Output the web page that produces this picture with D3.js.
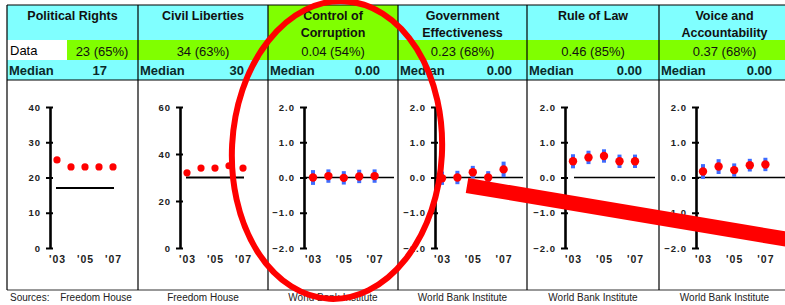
<!DOCTYPE html>
<html><head><meta charset="utf-8">
<script src="https://cdn.jsdelivr.net/npm/d3@7/dist/d3.min.js"></script>
<style>
html,body{margin:0;padding:0;background:#fff;}
svg{display:block;font-family:"Liberation Sans",Arial,sans-serif;}
</style></head>
<body>
<svg id="chart" width="785" height="305"></svg>
<script>
// ---- data ----
const titles = [["Political Rights"], ["Civil Liberties"], ["Control of", "Corruption"], ["Government", "Effectiveness"], ["Rule of Law"], ["Voice and", "Accountability"]];
const dataLabels = ["23 (65%)", "34 (63%)", "0.04 (54%)", "0.23 (68%)", "0.46 (85%)", "0.37 (68%)"];
const medianLabels = ["17", "30", "0.00", "0.00", "0.00", "0.00"];
const medians = [17, 30, 0, 0, 0, 0];
const sources = ["Freedom House", "Freedom House", "World Bank Institute", "World Bank Institute", "World Bank Institute", "World Bank Institute"];
const years = [2003, 2004, 2005, 2006, 2007];
const xTickYears = [2003, 2005, 2007];
const xTickLabels = ["'03", "'05", "'07"];
const prValues = [25, 23, 23, 23, 23];
const clValues = [32, 34, 34, 35, 34];
const ccValues = [0.00, 0.04, -0.01, 0.03, 0.04];
const ccErr = [0.21, 0.19, 0.19, 0.19, 0.19];
const geValues = [-0.02, 0.00, 0.15, 0.00, 0.23];
const geErr = [0.19, 0.19, 0.18, 0.18, 0.22];
const rlValues = [0.46, 0.57, 0.61, 0.46, 0.46];
const rlErr = [0.20, 0.19, 0.19, 0.19, 0.19];
const vaValues = [0.17, 0.31, 0.21, 0.35, 0.37];
const vaErr = [0.21, 0.21, 0.19, 0.18, 0.19];
const yTicksPR = [0, 10, 20, 30, 40];
const yTicksCL = [0, 20, 40, 60];
const yTicksWBI = [-2, -1, 0, 1, 2];

const series = [
  {values: prValues, err: null, domain: [0, 40], ticks: yTicksPR, fmt: d3.format("d")},
  {values: clValues, err: null, domain: [0, 60], ticks: yTicksCL, fmt: d3.format("d")},
  {values: ccValues, err: ccErr, domain: [-2, 2], ticks: yTicksWBI, fmt: d3.format(".1f")},
  {values: geValues, err: geErr, domain: [-2, 2], ticks: yTicksWBI, fmt: d3.format(".1f")},
  {values: rlValues, err: rlErr, domain: [-2, 2], ticks: yTicksWBI, fmt: d3.format(".1f")},
  {values: vaValues, err: vaErr, domain: [-2, 2], ticks: yTicksWBI, fmt: d3.format(".1f")}
];

// ---- layout ----
const panelLeft = [7, 138, 268, 398, 527, 659];
const panelRight = [138, 268, 398, 527, 659, 790];
const axisOffset = [43, 42, 36, 37, 38, 37];
const dotStep = [14, 14, 15.4, 15.4, 15.5, 15.6];
const dotStart = [7, 7, 9, 7, 8, 7];
const medRightPad = [31, 24, 18, 15, 17, 18];
const cyan = "#80FFFF", green = "#80FF00";
const TOP = 5, TITLE_B = 40, DATA_B = 60, MED_B = 80, BOTTOM = 290;

const svg = d3.select("#chart");

panelLeft.forEach((L, i) => {
  const R = panelRight[i];
  const g = svg.append("g");
  g.append("rect").attr("x", L).attr("y", TOP).attr("width", R - L).attr("height", TITLE_B - TOP)
    .attr("fill", i === 2 ? green : cyan);
  if (i === 0) {
    g.append("rect").attr("x", L).attr("y", TITLE_B).attr("width", 60).attr("height", DATA_B - TITLE_B).attr("fill", "#fff");
    g.append("rect").attr("x", L + 60).attr("y", TITLE_B).attr("width", R - L - 60).attr("height", DATA_B - TITLE_B).attr("fill", green);
    g.append("text").attr("x", L + 3).attr("y", 55).attr("font-size", 13).text("Data");
  } else {
    g.append("rect").attr("x", L).attr("y", TITLE_B).attr("width", R - L).attr("height", DATA_B - TITLE_B).attr("fill", green);
  }
  g.append("rect").attr("x", L).attr("y", DATA_B).attr("width", R - L).attr("height", MED_B - DATA_B).attr("fill", cyan);

  const cx = (L + R) / 2;
  titles[i].forEach((t, k) => {
    g.append("text").attr("x", cx).attr("y", 20 + k * 16.5).attr("text-anchor", "middle")
      .attr("font-size", 12.5).attr("font-weight", "bold").attr("fill", "#111").text(t);
  });
  g.append("text").attr("x", i === 0 ? 102 : cx).attr("y", 55.5).attr("text-anchor", "middle")
    .attr("font-size", 13).attr("fill", "#111").text(dataLabels[i]);
  g.append("text").attr("x", L + 2).attr("y", 75).attr("font-size", 13).attr("font-weight", "bold")
    .attr("fill", "#0a2a2a").text("Median");
  g.append("text").attr("x", R - medRightPad[i]).attr("y", 75).attr("text-anchor", "end")
    .attr("font-size", 13).attr("font-weight", "bold").attr("fill", "#0a2a2a").text(medianLabels[i]);

  g.append("text").attr("x", i === 0 ? 96 : cx).attr("y", 301).attr("text-anchor", "middle")
    .attr("font-size", 10).attr("fill", "#222").text(sources[i]);

  const s = series[i];
  const ax = L + axisOffset[i];
  const y = d3.scaleLinear().domain(s.domain).range([248, 107]);
  const x = d3.scaleLinear().domain([2003, 2007]).range([ax + dotStart[i], ax + dotStart[i] + 4 * dotStep[i]]);

  let x1, x2;
  if (i < 2) { x1 = x(2003) - 1; x2 = x(2007) + 1; }
  else if (i === 4) { x1 = ax + 9; x2 = R - 4; }
  else { x1 = ax; x2 = R - 4; }
  g.append("line").attr("x1", x1).attr("x2", x2).attr("y1", y(medians[i])).attr("y2", y(medians[i]))
    .attr("stroke", "#000").attr("stroke-width", i < 2 ? 2 : 1.6);

  const yAxis = d3.axisLeft(y).tickValues(s.ticks).tickFormat(s.fmt).tickSizeOuter(0).tickSizeInner(3).tickPadding(6);
  const ag = g.append("g").attr("transform", `translate(${ax},0)`).call(yAxis);
  ag.select(".domain").attr("stroke", "#000").attr("stroke-width", 2.6);
  ag.selectAll(".tick line").attr("x1", -4).attr("x2", 3).attr("stroke", "#000").attr("stroke-width", 2);
  ag.selectAll(".tick text").attr("font-size", 9.5).attr("font-weight", "bold").attr("letter-spacing", "1px")
    .attr("fill", "#222").attr("font-family", "Liberation Sans, Arial, sans-serif");

  const xAxis = d3.axisBottom(x).tickValues(xTickYears).tickFormat((d, k) => xTickLabels[k]).tickSize(0).tickPadding(0);
  const xg = g.append("g").attr("transform", "translate(0,256)").call(xAxis);
  xg.select(".domain").remove();
  xg.selectAll(".tick text").attr("font-size", 10.5).attr("font-weight", "bold").attr("letter-spacing", "1px")
    .attr("fill", "#222").attr("dy", "0.71em").attr("font-family", "Liberation Sans, Arial, sans-serif");

  if (s.err) {
    g.selectAll(".eb").data(years).join("line")
      .attr("x1", d => x(d)).attr("x2", d => x(d))
      .attr("y1", (d, k) => y(s.values[k] + s.err[k]))
      .attr("y2", (d, k) => y(s.values[k] - s.err[k]))
      .attr("stroke", "#3d6bff").attr("stroke-width", 4);
  }
  g.selectAll(".dot").data(years).join("circle")
    .attr("cx", d => x(d)).attr("cy", (d, k) => y(s.values[k]))
    .attr("r", s.err ? 4.2 : 3.6).attr("fill", "#ff0000");
});

const gridColor = "#000";
svg.append("line").attr("x1", 7).attr("x2", 790).attr("y1", TOP).attr("y2", TOP).attr("stroke", gridColor).attr("stroke-width", 1.2);
svg.append("line").attr("x1", 7).attr("x2", 790).attr("y1", MED_B).attr("y2", MED_B).attr("stroke", gridColor).attr("stroke-width", 1);
svg.append("line").attr("x1", 7).attr("x2", 790).attr("y1", BOTTOM).attr("y2", BOTTOM).attr("stroke", "#333").attr("stroke-width", 1.2);
panelLeft.concat([790]).forEach(px => {
  svg.append("line").attr("x1", px).attr("x2", px).attr("y1", TOP).attr("y2", BOTTOM)
    .attr("stroke", gridColor).attr("stroke-width", 1.2);
});
svg.append("text").attr("x", 10).attr("y", 301).attr("font-size", 10).attr("fill", "#222").text("Sources:");

// annotations
svg.append("ellipse").attr("cx", 337).attr("cy", 150).attr("rx", 105).attr("ry", 149)
  .attr("transform", "rotate(3,337,150)")
  .attr("fill", "none").attr("stroke", "#ff0000").attr("stroke-width", 6);
svg.append("line").attr("x1", 467).attr("y1", 185.5).attr("x2", 800).attr("y2", 241.5)
  .attr("stroke", "#ff0000").attr("stroke-width", 15);
</script>
</body></html>
